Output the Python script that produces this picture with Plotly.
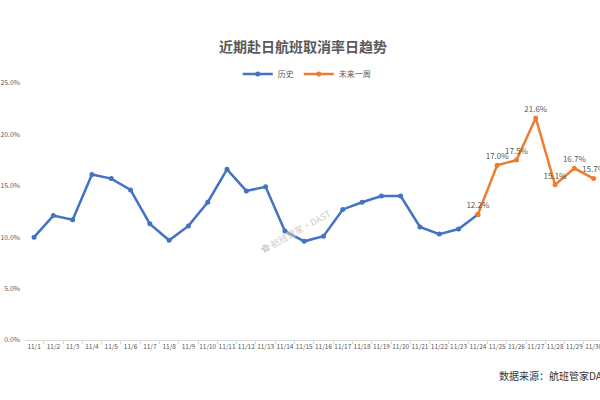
import plotly.graph_objects as go

# data
days = ["11/%d" % d for d in range(1, 31)]
hist_days = days[:24]
hist_rate = [10.0, 12.1, 11.7, 16.1, 15.7, 14.6, 11.3, 9.7, 11.1, 13.4,
             16.6, 14.5, 14.9, 10.6, 9.6, 10.1, 12.7, 13.4, 14.0, 14.0,
             11.0, 10.3, 10.8, 12.2]
next_days = days[23:]
next_rate = [12.2, 17.0, 17.5, 21.6, 15.1, 16.7, 15.7]
y_ticks = [0, 5, 10, 15, 20, 25]

font = "Noto Sans CJK SC"
blue = "#4472C4"
orange = "#ED7D31"

fig = go.Figure()
fig.add_trace(go.Scatter(x=hist_days, y=hist_rate, name="历史", mode="lines+markers",
                         line=dict(color=blue, width=2.5),
                         marker=dict(size=5, color=blue)))
fig.add_trace(go.Scatter(x=next_days, y=next_rate, name="未来一周", mode="lines+markers+text",
                         line=dict(color=orange, width=2.5),
                         marker=dict(size=5, color=orange),
                         text=["%.1f%%" % v for v in next_rate],
                         textposition="top center",
                         textfont=dict(size=8, color="#595959", family=font)))

fig.update_layout(
    width=600, height=400,
    paper_bgcolor="white", plot_bgcolor="white",
    margin=dict(l=25, r=0, t=83, b=60),
    font=dict(family=font, color="#595959"),
    title=dict(text="<b>近期赴日航班取消率日趋势</b>", x=0.505, xref="container",
               y=1 - 47 / 400, yanchor="middle", xanchor="center",
               font=dict(size=14, color="#595959", family=font)),
    legend=dict(orientation="h", x=0.49, xanchor="center", y=1.035, yanchor="middle",
                font=dict(size=8, color="#595959"), itemwidth=30, tracegroupgap=0),
    xaxis=dict(type="category", categoryarray=days, range=[-0.47, 29.33],
               automargin=False, tickangle=0,
               showgrid=False, showline=True, linecolor="#D9D9D9", linewidth=1,
               ticks="outside", tickson="boundaries", ticklen=3, tickcolor="#D9D9D9",
               tickfont=dict(size=6.5, color="#595959")),
    yaxis=dict(range=[0, 25], tickvals=y_ticks, automargin=False,
               ticktext=["%.1f%%" % v for v in y_ticks],
               showgrid=False, zeroline=False, showline=False,
               ticklabelstandoff=4,
               tickfont=dict(size=6.8, color="#595959")),
    showlegend=True,
)

fig.add_annotation(text="✿ 航班管家·DAST", xref="paper", yref="paper",
                   x=(296 - 25) / 575, y=(340 - 232) / 257, showarrow=False,
                   textangle=-29, font=dict(size=9, color="#CCCCCC"))
fig.add_annotation(text="数据来源：航班管家DAST", xref="paper", yref="paper",
                   x=(497 - 25) / 575, y=(340 - 375) / 257, xanchor="left", yanchor="middle",
                   showarrow=False, font=dict(size=10, color="#333333"))

fig.write_html("out.html", config={"displayModeBar": False},
               post_script="document.body.style.margin='0';")
